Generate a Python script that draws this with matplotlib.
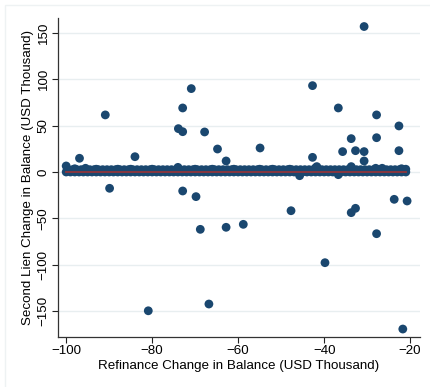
import matplotlib
matplotlib.use("Agg")
import matplotlib.pyplot as plt
from matplotlib.patches import Rectangle

plt.rcParams['font.family'] = ['Liberation Sans', 'DejaVu Sans']

# dense cluster of observations with (almost) no second-lien change
band_x = [-100, -99, -98, -97, -96, -95, -94, -93, -92, -91, -90, -89, -88, -87,
          -86, -85, -84, -83, -82, -81, -80, -79, -78, -77, -76, -75, -74, -73,
          -72, -71, -70, -69, -68, -67, -66, -65, -64, -63, -62, -61, -60, -59,
          -58, -57, -56, -55, -54, -53, -52, -51, -50, -49, -48, -47, -46, -45,
          -44, -43, -42, -41, -40, -39, -38, -37, -36, -35, -34, -33, -32, -31,
          -30, -29, -28, -27, -26, -25, -24, -23, -22, -21]
band_y = [0] * len(band_x)

band2_x = [-99.5, -98.5, -97.5, -96.5, -95.5, -94.5, -93.5, -92.5, -91.5, -90.5,
           -89.5, -88.5, -87.5, -86.5, -85.5, -84.5, -83.5, -82.5, -81.5, -80.5,
           -79.5, -78.5, -77.5, -76.5, -75.5, -74.5, -73.5, -72.5, -71.5, -70.5,
           -69.5, -68.5, -67.5, -66.5, -65.5, -64.5, -63.5, -62.5, -61.5, -60.5,
           -59.5, -58.5, -57.5, -56.5, -55.5, -54.5, -53.5, -52.5, -51.5, -50.5,
           -49.5, -48.5, -47.5, -46.5, -45.5, -44.5, -43.5, -42.5, -41.5, -40.5,
           -39.5, -38.5, -37.5, -36.5, -35.5, -34.5, -33.5, -32.5, -31.5, -30.5,
           -29.5, -28.5, -27.5, -26.5, -25.5, -24.5, -23.5, -22.5, -21.5]
band2_y = [2.5] * len(band2_x)

# small deviations close to zero
near_x = [-100, -98, -95.5, -93, -88, -85, -80, -74, -70, -66, -61, -55, -52, -48,
          -45.7, -42, -41.7, -36.7, -33.7, -28, -26.5, -22, -21]
near_y = [6.5, 3.5, 4, 3, 3, 3, 3, 5, 3, 3, 3, 3, 3, 3,
          -4, 4.5, 5.8, -2.9, 5.8, 4, 4, 3.5, 3]

# outliers
out_x = [-90.9, -96.9, -84.0, -89.9, -73.9, -72.9, -72.9, -70.9, -67.8, -64.8,
         -62.8, -72.9, -69.8, -30.7, -42.7, -36.7, -27.8, -22.6, -33.7, -27.8,
         -54.9, -35.7, -32.7, -30.7, -22.6, -42.7, -30.7, -23.7, -20.7, -68.8,
         -62.8, -58.8, -66.8, -80.9, -47.7, -33.7, -32.7, -27.8, -39.8, -21.7]
out_y = [61.6, 14.8, 16.5, -17.6, 46.8, 43.5, 69.1, 90.0, 43.2, 24.8,
         11.9, -20.5, -26.6, 157.0, 93.2, 69.1, 61.6, 49.7, 36.0, 37.0,
         25.9, 22.0, 23.0, 22.0, 23.0, 15.8, 11.9, -29.5, -31.3, -61.9,
         -59.7, -56.5, -142.5, -149.8, -41.8, -43.9, -39.2, -66.6, -97.9, -169.5]

fit_x = [-100, -21]
fit_y = [0, 0]

xticks = [-100, -80, -60, -40, -20]
yticks = [-150, -100, -50, 0, 50, 100, 150]

navy = '#1a476f'
maroon = '#90353b'

fig = plt.figure(figsize=(4.30, 3.87), dpi=100)
fig.patches.append(Rectangle((5 / 430, -0.01), 1.02, 1 - 5 / 387 + 0.01,
                             transform=fig.transFigure, fill=False,
                             edgecolor='#eef2f3', linewidth=1.0))
ax = fig.add_axes([58 / 430, 1 - 337 / 387, (420 - 58) / 430, (337 - 18) / 387])

all_x = band_x + band2_x + near_x + out_x
all_y = band_y + band2_y + near_y + out_y
ax.scatter(all_x, all_y, s=40, color=navy, edgecolors='none', zorder=3)
ax.plot(fit_x, fit_y, color=maroon, linewidth=1.3, zorder=4)

ax.set_xlim(-101.9, -17.7)
ax.set_ylim(-178.1, 166.2)
ax.set_xticks(xticks)
ax.set_yticks(yticks)
ax.set_xticklabels([str(t).replace('-', '\u2212') for t in xticks])
ax.set_yticklabels([str(t).replace('-', '\u2212') for t in yticks],
                   rotation=90, va='center')
ax.tick_params(direction='out', length=4, width=0.8, colors='#222222',
               labelsize=9.6, labelcolor='black', pad=2)
ax.yaxis.grid(True, color='#e8eef0', linewidth=1.0)
ax.set_axisbelow(True)
for s in ['top', 'right']:
    ax.spines[s].set_visible(False)
for s in ['left', 'bottom']:
    ax.spines[s].set_color('#333333')
    ax.spines[s].set_linewidth(0.9)

ax.set_xlabel('Refinance Change in Balance (USD Thousand)', fontsize=9.6, labelpad=2)
ax.set_ylabel('Second Lien Change in Balance (USD Thousand)', fontsize=9.6, labelpad=3)

fig.savefig('out.png', dpi=100)
